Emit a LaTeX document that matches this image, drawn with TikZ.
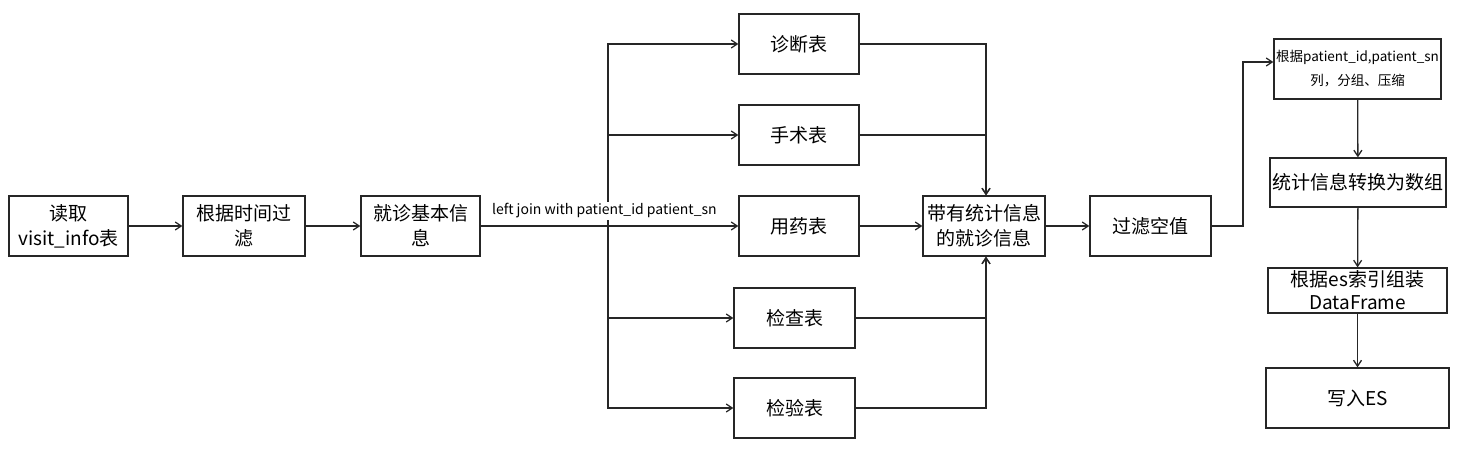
\documentclass[tikz,border=0pt]{standalone}
\usepackage{fontspec}
\setmainfont{Noto Sans CJK SC}
\usetikzlibrary{arrows.meta,calc}
\begin{document}
\begin{tikzpicture}[x=1pt,y=-1pt,
  box/.style={draw=black!85,line width=1.3pt,fill=white,align=center,inner sep=2pt,
    font=\fontsize{19}{25}\selectfont},
  arr/.style={draw=black!85,line width=1.3pt,-{Straight Barb[length=6pt,width=8pt]}},
  ln/.style={draw=black!85,line width=1.3pt},
  lbl/.style={fill=white,inner sep=1.5pt,font=\fontsize{14}{15}\selectfont}]
\useasboundingbox (0,0) rectangle (1463,460);
% main row
\node[box,minimum width=119pt,minimum height=60pt] (a) at (68.5,226) {读取\\visit\_info表};
\node[box,minimum width=122pt,minimum height=60pt] (b) at (244,226) {根据时间过\\滤};
\node[box,minimum width=119pt,minimum height=60pt] (c) at (420.5,226) {就诊基本信\\息};
% tables
\node[box,minimum width=120pt,minimum height=60pt] (d1) at (799,44) {诊断表};
\node[box,minimum width=120pt,minimum height=60pt] (d2) at (799,135) {手术表};
\node[box,minimum width=120pt,minimum height=60pt] (d3) at (799,226) {用药表};
\node[box,minimum width=121pt,minimum height=60pt] (d4) at (794.5,318) {检查表};
\node[box,minimum width=121pt,minimum height=60pt] (d5) at (794.5,408) {检验表};
% merge
\node[box,minimum width=122pt,minimum height=60pt] (e) at (984,226) {带有统计信息\\的就诊信息};
\node[box,minimum width=121pt,minimum height=60pt] (f) at (1150.5,226) {过滤空值};
% right column
\node[box,minimum width=167pt,minimum height=60pt,inner sep=0pt,font=\fontsize{13.5}{24}\selectfont] (g) at (1357.5,69) {根据patient\_id,patient\_sn\\列，分组、压缩};
\node[box,minimum width=176pt,minimum height=49pt] (h) at (1358,182.5) {统计信息转换为数组};
\node[box,minimum width=179pt,minimum height=45pt,font=\fontsize{19}{23}\selectfont] (i) at (1357.5,290.5) {根据es索引组装\\DataFrame};
\node[box,minimum width=183pt,minimum height=60pt] (j) at (1357.5,398) {写入ES};
% coordinates
\coordinate (br) at (608,226);
\coordinate (tp) at (1243,226);
% connectors
\draw[arr] (a) -- (b);
\draw[arr] (b) -- (c);
\draw[ln,line width=2.8pt] (c.east) -- (br);
\draw[arr] (br) |- (d1.west);
\draw[arr] (br) |- (d2.west);
\draw[arr] (br) |- (d4.west);
\draw[arr] (br) |- (d5.west);
\draw[arr] (c.east) -- (d3.west) node[lbl,pos=0.48,yshift=15pt] {left join with patient\_id patient\_sn};
\draw[arr] (d1.east) -| ([xshift=2pt]e.north);
\draw[arr] (d2.east) -| ([xshift=2pt]e.north);
\draw[arr] (d3) -- (e);
\draw[arr] (d4.east) -| ([xshift=2pt]e.south);
\draw[arr] (d5.east) -| ([xshift=2pt]e.south);
\draw[arr] (e) -- (f);
\draw[arr] (f.east) -- (tp) |- ([yshift=7pt]g.west);
\draw[arr] (g) -- (h);
\draw[arr] (h) -- (i);
\draw[arr] (i) -- (j);
\end{tikzpicture}
\end{document}
